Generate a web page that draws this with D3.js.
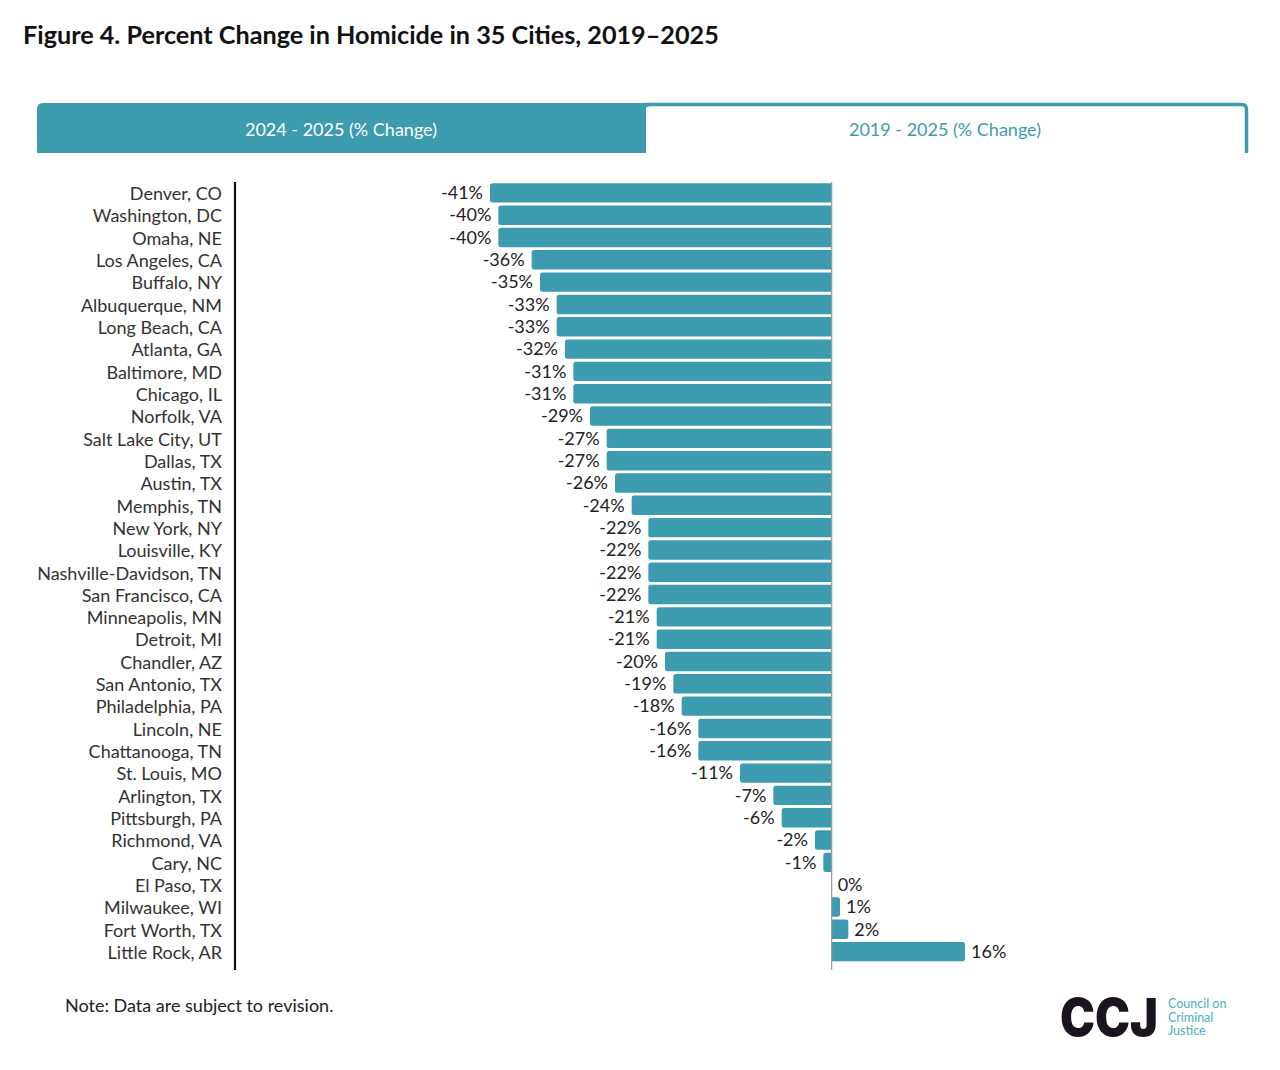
<!DOCTYPE html>
<html>
<head>
<meta charset="utf-8">
<script src="https://cdn.jsdelivr.net/npm/d3@7"></script>
<style>
  body { margin: 0; background: #fff; }
  svg { display: block; font-family: Lato, "Open Sans", sans-serif; }
</style>
</head>
<body>
<div id="chart"></div>
<script>
const cities = [
  "Denver, CO", "Washington, DC", "Omaha, NE", "Los Angeles, CA", "Buffalo, NY",
  "Albuquerque, NM", "Long Beach, CA", "Atlanta, GA", "Baltimore, MD", "Chicago, IL",
  "Norfolk, VA", "Salt Lake City, UT", "Dallas, TX", "Austin, TX", "Memphis, TN",
  "New York, NY", "Louisville, KY", "Nashville-Davidson, TN", "San Francisco, CA", "Minneapolis, MN",
  "Detroit, MI", "Chandler, AZ", "San Antonio, TX", "Philadelphia, PA", "Lincoln, NE",
  "Chattanooga, TN", "St. Louis, MO", "Arlington, TX", "Pittsburgh, PA", "Richmond, VA",
  "Cary, NC", "El Paso, TX", "Milwaukee, WI", "Fort Worth, TX", "Little Rock, AR"
];
const change2425 = [
  -41, -40, -40, -36, -35,
  -33, -33, -32, -31, -31,
  -29, -27, -27, -26, -24,
  -22, -22, -22, -22, -21,
  -21, -20, -19, -18, -16,
  -16, -11, -7, -6, -2,
  -1, 0, 1, 2, 16
];
const tabs = ["2024 - 2025 (% Change)", "2019 - 2025 (% Change)"];

const width = 1280, height = 1070;
const teal = "#3d9bb0";
const data = cities.map((c, i) => ({ city: c, value: change2425[i] }));

const svg = d3.select("#chart").append("svg")
  .attr("width", width)
  .attr("height", height);

// Title
svg.append("text")
  .attr("x", 23)
  .attr("y", 44)
  .attr("font-size", 25.2)
  .attr("font-weight", "bold")
  .attr("fill", "#111")
  .text("Figure 4. Percent Change in Homicide in 35 Cities, 2019\u20132025");

// Tabs
const tabTop = 103, tabBottom = 153, tabLeft = 37, tabMid = 645, tabRight = 1247;
const r = 6;
svg.append("path")
  .attr("d", `M${tabLeft},${tabBottom} V${tabTop + r} Q${tabLeft},${tabTop} ${tabLeft + r},${tabTop} H${tabMid + 4} V${tabBottom} Z`)
  .attr("fill", teal);
svg.append("path")
  .attr("d", `M${tabMid + 1},${tabBottom} V${tabTop + 5} Q${tabMid + 1},${tabTop + 3.5} ${tabMid + 4},${tabTop + 3.5} H${tabRight - 5} Q${tabRight - 1.5},${tabTop + 3.5} ${tabRight - 1.5},${tabTop + 7} V${tabBottom}`)
  .attr("fill", "#fff")
  .attr("stroke", "none");
svg.append("path")
  .attr("d", `M${tabMid},${tabTop + 1.5} H${tabRight - 5} Q${tabRight - 0.5},${tabTop + 1.5} ${tabRight - 0.5},${tabTop + 7} V${tabBottom}`)
  .attr("fill", "none")
  .attr("stroke", teal)
  .attr("stroke-width", 3.5);
svg.append("text")
  .attr("x", (tabLeft + tabMid) / 2)
  .attr("y", 136)
  .attr("text-anchor", "middle")
  .attr("font-size", 18)
  .attr("fill", "#fff")
  .text(tabs[0]);
svg.append("text")
  .attr("x", (tabMid + tabRight) / 2 - 1)
  .attr("y", 136)
  .attr("text-anchor", "middle")
  .attr("font-size", 18)
  .attr("fill", teal)
  .text(tabs[1]);

// Scales
const x = d3.scaleLinear()
  .domain([-41, 16])
  .range([490, 965]);
const y = d3.scaleBand()
  .domain(cities)
  .range([182.5, 962])
  .paddingInner(0.13)
  .paddingOuter(0.03);

// Bars (rounded on the outer end only)
function barPath(d) {
  const x0 = x(0), x1 = x(d.value);
  const y0 = y(d.city), h = y.bandwidth();
  const rr = Math.min(2.5, Math.abs(x1 - x0) / 2);
  if (d.value < 0) {
    return `M${x0},${y0} H${x1 + rr} Q${x1},${y0} ${x1},${y0 + rr} V${y0 + h - rr} Q${x1},${y0 + h} ${x1 + rr},${y0 + h} H${x0} Z`;
  }
  return `M${x0},${y0} H${x1 - rr} Q${x1},${y0} ${x1},${y0 + rr} V${y0 + h - rr} Q${x1},${y0 + h} ${x1 - rr},${y0 + h} H${x0} Z`;
}

svg.append("g")
  .selectAll("path")
  .data(data.filter(d => d.value !== 0))
  .join("path")
    .attr("d", barPath)
    .attr("fill", teal);

// Zero line
svg.append("line")
  .attr("x1", x(0)).attr("x2", x(0))
  .attr("y1", 182).attr("y2", 970)
  .attr("stroke", "#999")
  .attr("stroke-width", 1.2);

// Value labels
svg.append("g")
  .attr("font-size", 18)
  .attr("fill", "#222")
  .selectAll("text")
  .data(data)
  .join("text")
    .attr("x", d => d.value < 0 ? x(d.value) - 7 : x(d.value) + 6)
    .attr("y", d => y(d.city) + y.bandwidth() / 2)
    .attr("dy", "0.35em")
    .attr("text-anchor", d => d.value < 0 ? "end" : "start")
    .text(d => `${d.value}%`);

// City axis
const yAxis = d3.axisLeft(y).tickSize(0).tickPadding(13);
svg.append("g")
  .attr("transform", "translate(235,1.5)")
  .call(yAxis)
  .call(g => g.select(".domain").remove())
  .call(g => g.selectAll("text")
    .attr("font-family", "Lato, sans-serif")
    .attr("font-size", 18)
    .attr("fill", "#333"));
svg.append("line")
  .attr("x1", 235).attr("x2", 235)
  .attr("y1", 182).attr("y2", 970)
  .attr("stroke", "#111")
  .attr("stroke-width", 2.2);

// Note
svg.append("text")
  .attr("x", 65)
  .attr("y", 1012)
  .attr("font-size", 18)
  .attr("fill", "#222")
  .text("Note: Data are subject to revision.");

// Logo
svg.append("text")
  .attr("x", 1060)
  .attr("y", 1036)
  .attr("font-family", "Inter, 'DejaVu Sans', sans-serif")
  .attr("font-weight", 900)
  .attr("font-size", 52)
  .attr("textLength", 98)
  .attr("lengthAdjust", "spacingAndGlyphs")
  .attr("fill", "#1c1320")
  .text("CCJ");
svg.append("g")
  .attr("font-size", 12.5)
  .attr("fill", "#4aafc0")
  .selectAll("text")
  .data(["Council on", "Criminal", "Justice"])
  .join("text")
    .attr("x", 1168)
    .attr("y", (d, i) => 1008 + i * 13.5)
    .text(d => d);
</script>
</body>
</html>
